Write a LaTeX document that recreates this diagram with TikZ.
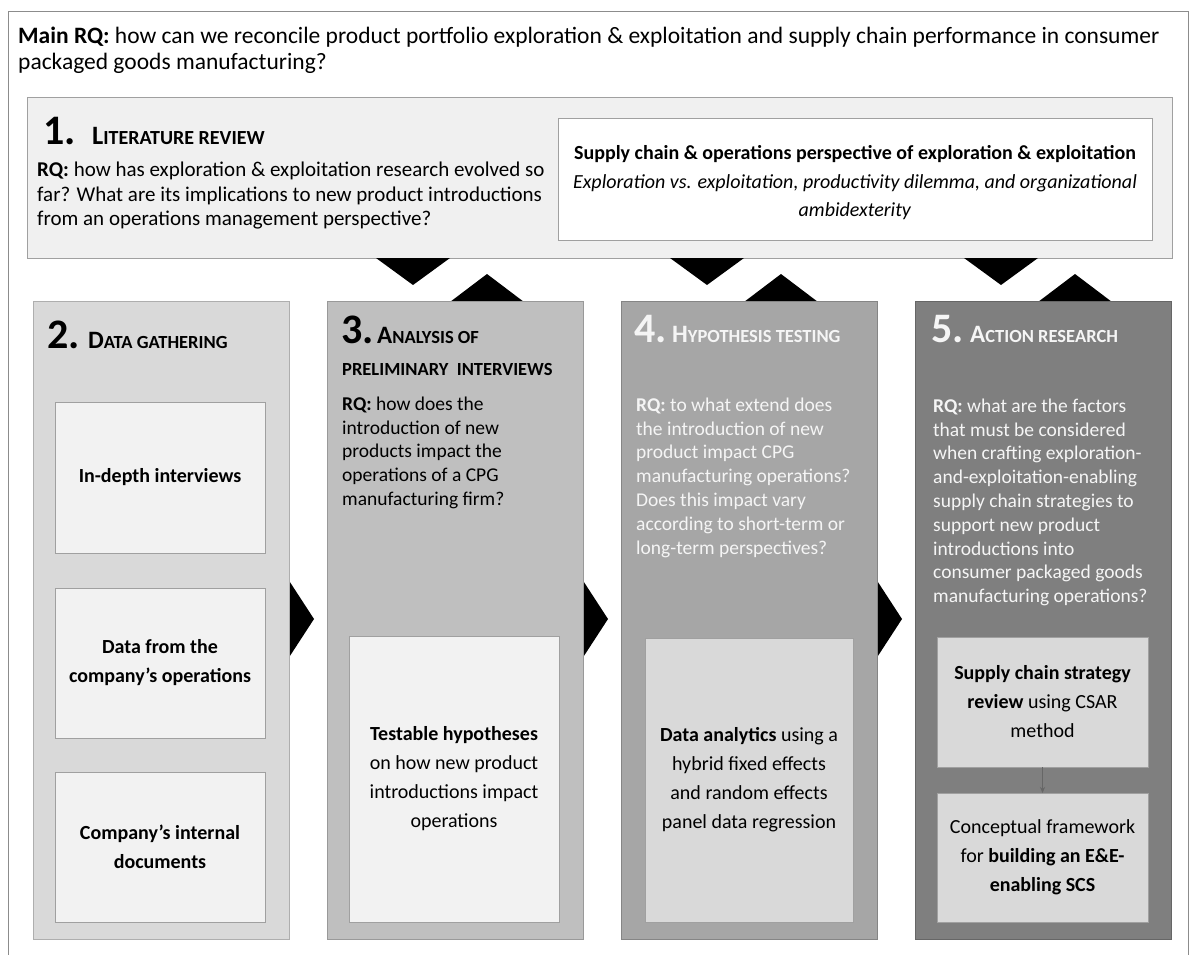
\documentclass[tikz,border=0pt]{standalone}
\usepackage{fontspec}
\setmainfont{Carlito}
\usetikzlibrary{arrows.meta}
\definecolor{frameline}{HTML}{8C8C8C}
\definecolor{boxone}{HTML}{F0F0F0}
\definecolor{boxline}{HTML}{A0A0A0}
\definecolor{coltwo}{HTML}{D9D9D9}
\definecolor{colthree}{HTML}{BFBFBF}
\definecolor{colfour}{HTML}{A6A6A6}
\definecolor{colfive}{HTML}{7F7F7F}
\definecolor{innerlight}{HTML}{F2F2F2}
\definecolor{innermid}{HTML}{D9D9D9}
\definecolor{lighttext}{HTML}{F5F5F5}
\newcommand\mysc[2]{{\fontsize{25}{25}\selectfont #1}{\fontsize{18.5}{18.5}\selectfont #2}}
\newcommand\myscbig[2]{{\fontsize{26.5}{26.5}\selectfont #1}{\fontsize{20}{20}\selectfont #2}}
\begin{document}
\begin{tikzpicture}[x=1pt,y=-1pt,
  box/.style={rectangle, inner sep=0pt, outer sep=0pt, anchor=north west, line width=0.8pt},
  colbox/.style={box, minimum width=256pt, minimum height=638pt, draw=#1!80!black},
  inbox/.style={box, align=center, font=\fontsize{20}{29}\selectfont, draw=boxline},
  tri/.style={fill=black},
  hnum/.style={anchor=base west, inner sep=0pt, font=\fontsize{42}{42}\selectfont\bfseries},
  hsc/.style={anchor=base west, inner sep=0pt, font=\bfseries},
  rq/.style={anchor=north west, inner sep=0pt, align=left, font=\fontsize{19.5}{23.8}\selectfont},
  smallarrow/.style={draw=black!60, line width=0.8pt, -{Stealth[length=6pt,width=5pt]}}
]
\useasboundingbox (0,0) rectangle (1191,955);
\fill[white] (0,0) rectangle (1191,955);
% outer frame
\draw[frameline, line width=1pt] (8,955) -- (8,12) -- (1188,12) -- (1188,955);
% main RQ
\node[anchor=north west, inner sep=0pt, align=left, font=\fontsize{23.5}{25.5}\selectfont] (mainrq) at (18,27)
  {\textbf{Main RQ:} how can we reconcile product portfolio exploration \& exploitation and supply chain performance in consumer\\packaged goods manufacturing?};
% box 1
\node[box, fill=boxone, draw=boxline, minimum width=1145pt, minimum height=161pt] (b1) at (27,97) {};
\node[box, fill=white, draw=boxline, minimum width=594pt, minimum height=122pt] (wb) at (558,118) {};
\node[hnum] (n1) at (43,145) {1.};
\node[hsc] (t1) at (92,145) {\myscbig{L}{ITERATURE REVIEW}};
\node[rq, font=\fontsize{21}{24.5}\selectfont] (rq1) at (37,162)
  {\textbf{RQ:} how has exploration \& exploitation research evolved so\\far? What are its implications to new product introductions\\from an operations management perspective?};
\node[anchor=north, inner sep=0pt, align=center, font=\fontsize{20}{28.5}\selectfont] (wbt) at (855,145.5)
  {\textbf{Supply chain \& operations perspective of exploration \& exploitation}\\\textit{Exploration vs. exploitation, productivity dilemma, and organizational}\\\textit{ambidexterity}};
% right arrows between columns (drawn behind columns)
\foreach \xr in {289,583,877}{
  \fill[tri] (\xr-3,576) -- (\xr+25,619) -- (\xr-3,662) -- cycle;
}
% down triangles from box 1, up triangles into columns
\foreach \cx in {413,707,1001}{
  \fill[tri] (\cx-37,258) -- (\cx+37,258) -- (\cx,285) -- cycle;
}
\foreach \cx in {487,781,1075}{
  \fill[tri] (\cx-37,302) -- (\cx+37,302) -- (\cx,274) -- cycle;
}
% columns
\node[colbox=coltwo, fill=coltwo] (c2) at (33,301) {};
\node[colbox=colthree, fill=colthree] (c3) at (327,301) {};
\node[colbox=colfour, fill=colfour] (c4) at (621,301) {};
\node[colbox=colfive, fill=colfive] (c5) at (915,301) {};
% column 2
\node[hnum] (n2) at (47,348) {2.};
\node[hsc] (t2) at (88,348) {\mysc{D}{ATA GATHERING}};
\node[inbox, fill=innerlight, minimum width=210pt, minimum height=151pt] (ga) at (55,402) {\textbf{In-depth interviews}};
\node[inbox, fill=innerlight, minimum width=210pt, minimum height=150pt] (gb) at (55,588) {\textbf{Data from the}\\\textbf{company’s operations}};
\node[inbox, fill=innerlight, minimum width=210pt, minimum height=150pt] (gc) at (55,772) {\textbf{Company’s internal}\\\textbf{documents}};
% column 3
\node[hnum] (n3) at (341,343) {3.};
\node[hsc] (t3) at (377,343) {\mysc{A}{NALYSIS OF}};
\node[hsc] (t3b) at (342,375) {\fontsize{18.5}{18.5}\selectfont PRELIMINARY\ \ INTERVIEWS};
\node[rq] (rq3) at (342,396.5) {\textbf{RQ:} how does the\\introduction of new\\products impact the\\operations of a CPG\\manufacturing firm?};
\node[inbox, fill=innerlight, minimum width=210pt, minimum height=286pt] (h3) at (349,636)
  {\textbf{Testable hypotheses}\\on how new product\\introductions impact\\operations};
% column 4
\node[hnum, text=lighttext] (n4) at (634,342) {4.};
\node[hsc, text=lighttext] (t4) at (672,342) {\mysc{H}{YPOTHESIS TESTING}};
\node[rq, text=lighttext] (rq4) at (636,397.5) {\textbf{RQ:} to what extend does\\the introduction of new\\product impact CPG\\manufacturing operations?\\Does this impact vary\\according to short-term or\\long-term perspectives?};
\node[inbox, fill=innermid, minimum width=208pt, minimum height=284pt] (h4) at (645,638)
  {\textbf{Data analytics} using a\\hybrid fixed effects\\and random effects\\panel data regression};
% column 5
\node[hnum, text=lighttext] (n5) at (931,342) {5.};
\node[hsc, text=lighttext] (t5) at (970,342) {\mysc{A}{CTION RESEARCH}};
\node[rq, text=lighttext] (rq5) at (933,398.5) {\textbf{RQ:} what are the factors\\that must be considered\\when crafting exploration-\\and-exploitation-enabling\\supply chain strategies to\\support new product\\introductions into\\consumer packaged goods\\manufacturing operations?};
\node[inbox, fill=innermid, minimum width=211pt, minimum height=130pt] (d5) at (937,637)
  {\textbf{Supply chain strategy}\\\textbf{review} using CSAR\\method};
\node[inbox, fill=innermid, minimum width=211pt, minimum height=129pt] (e5) at (937,793)
  {Conceptual framework\\for \textbf{building an E\&E-}\\\textbf{enabling SCS}};
\draw[smallarrow] (d5.south) -- (e5.north);
\end{tikzpicture}
\end{document}
